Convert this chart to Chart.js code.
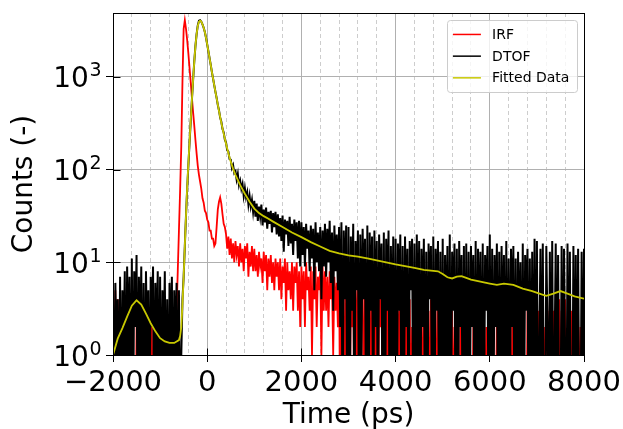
<!DOCTYPE html>
<html>
<head>
<meta charset="utf-8">
<script src="https://cdn.jsdelivr.net/npm/chart.js@4.4.1/dist/chart.umd.min.js"></script>
<style>
html,body{margin:0;padding:0;background:#ffffff;}
#wrap{width:623px;height:429px;}
</style>
</head>
<body>
<div id="wrap"><canvas id="c" width="623" height="429"></canvas></div>
<script>
// ---- time bins (ps) of the measured histograms ----
const BIN_START_PS = -2000;
const BIN_WIDTH_PS = 25;

// ---- IRF counts, one value per 25 ps bin, -2000 ... 8000 ps ----
const irfCounts = [
  2,0,5,0,4,1,3,0,2,0,3,0,1,0,2,0,3,0,1,0,
  2,0,1,0,3,0,1,0,2,0,0,1,0,2,0,1,0,0,2,0,
  1,0,2,0,1,0,0,2,0,1,0,0,1,0,3,8,22,60,180,900,
  3300,4100,3300,2500,1800,1250,880,600,420,300,210,150,110,88,74,62,49,44,36,34,
  29,27,22,22,18,18,15,16,24,37,45,50,43,33,26,24,20,14,19,12,
  18,11,16,10,17,12,15,9,16,10,14,8,15,11,16,7,13,9,15,8,
  14,8,12,7,13,9,11,6,13,8,12,5,11,7,12,6,10,5,11,7,
  10,5,11,4,9,6,11,3,10,5,8,4,10,3,9,6,10,3,8,2,
  9,4,8,2,10,5,7,3,9,1,8,4,9,2,7,5,8,1,9,3,
  8,3,7,2,8,4,6,1,7,3,6,2,8,0,7,1,6,0,8,0,
  8,0,6,2,9,0,5,1,7,0,6,3,8,0,5,0,7,2,6,0,
  7,0,5,1,6,0,4,2,7,0,5,0,6,1,4,0,5,2,6,0,
  4,0,3,1,5,0,2,0,4,1,3,0,4,0,2,1,3,0,4,0,
  4,0,3,0,4,1,2,0,3,0,4,0,2,1,3,0,4,0,2,0,
  3,0,2,0,4,0,1,0,3,0,2,0,3,1,0,2,0,3,0,1,
  2,0,3,0,1,0,2,0,3,0,0,2,0,1,0,3,0,2,0,1,
  3,0,2,0,1,0,3,0,2,0,0,1,0,2,0,3,0,1,0,2,
  0,3,0,2,0,1,0,4,0,2,0,0,3,0,1,0,2,0,3,0,
  0,3,0,0,4,0,2,0,0,3,0,4,0,0,3,0,2,0,0,4,
  0,3,0,0,4,0,0,2,0,3,0,0,4,0,0,3,0,2,0,0,
  3
];

// ---- DTOF counts, same bins ----
const dtofCounts = [
  5,0,6,1,4,0,7,0,5,1,8,0,9,1,7,0,11,0,8,2,
  12,0,7,1,9,0,6,0,8,1,5,0,7,2,9,0,6,1,8,0,
  7,0,5,1,8,0,4,0,6,1,7,0,5,1,6,0,5,0,1,4,
  7,15,32,62,110,195,330,560,920,1450,2150,2900,3600,4050,4100,3950,3700,3400,3050,2650,
  2250,1900,1600,1350,1130,960,810,690,595,500,438,365,328,275,252,210,196,162,156,130,
  128,104,112,92,96,78,90,68,76,62,70,52,63,50,57,42,52,40,47,35,
  46,31,43,28,40,31,42,25,37,27,39,23,35,26,36,21,34,24,35,20,
  33,19,30,17,32,13,29,20,28,15,31,16,26,12,29,17,27,11,28,9,
  27,12,24,9,26,14,22,8,25,11,23,5,27,10,21,8,24,4,22,9,
  26,7,23,10,28,6,21,3,25,8,20,5,24,2,27,0,22,4,25,0,
  24,0,19,3,26,0,17,5,22,0,20,1,23,4,18,0,25,0,21,3,
  19,0,22,2,17,0,20,4,16,0,21,0,18,3,22,0,15,1,19,0,
  18,0,16,3,20,0,15,0,19,2,14,0,17,5,18,0,16,0,20,1,
  17,0,14,2,18,0,13,0,16,4,15,0,19,0,14,3,17,0,13,0,
  18,0,12,1,15,0,20,0,13,3,16,0,14,0,17,2,12,0,15,0,
  16,0,13,0,15,2,12,0,17,0,14,1,13,0,16,0,12,3,15,0,
  20,0,14,0,12,2,16,0,13,0,15,1,12,0,17,0,11,0,14,2,
  15,0,11,0,13,1,10,0,16,0,12,3,14,0,11,0,13,0,18,0,
  17,0,1,14,0,16,0,0,15,2,0,13,0,17,0,1,16,0,12,0,
  0,15,0,14,1,0,16,0,13,0,0,15,0,12,0,14,0,0,13,0,
  14
];

// ---- fitted curve ----
const fitTime = [
  -2000,-1900,-1800,-1700,-1600,-1500,-1400,-1300,-1200,-1100,-1000,-900,-800,-700,-600,
  -575,-550,-525,-500,-475,-450,-425,-400,-375,-350,-325,-300,-275,-250,-225,-200,-175,-150,-125,-100,-75,-50,-25,0,25,50,75,100,125,150,175,200,
  250,300,350,400,450,500,550,600,
  700,800,900,1000,1100,1200,1300,1400,
  1600,1800,2000,2200,2400,2600,2800,3000,3200,3400,3600,3800,4000,4200,4400,4600,4800,
  4900,5000,5100,5200,5300,5400,5500,5600,
  5800,6000,6150,6300,6500,6700,6900,7100,7200,7350,7500,7650,7800,8000
];
const fitCounts = [
  1.0,1.5,1.95,2.6,3.4,3.9,3.5,2.8,2.2,1.8,1.52,1.4,1.35,1.35,1.45,
  1.6,2.0,3.5,7,15,32,65,115,200,340,560,920,1450,2150,2900,3550,3950,4050,3950,3700,3400,3050,2650,2250,1900,1600,1350,1130,960,810,690,590,
  430,320,245,190,150,122,102,88,
  68,55,45,38,34,31.5,29.5,27.5,
  24,21,18.7,16.5,14.8,13.3,12.5,11.9,11.5,11.0,10.5,10.0,9.5,9.1,8.7,8.3,8.1,
  8.0,7.5,6.9,6.7,7.0,7.1,6.8,6.5,
  6.2,5.9,5.7,5.9,5.7,5.2,4.9,4.5,4.35,4.6,4.9,4.6,4.3,4.05
];

// ---- labels and ticks ----
const seriesLabels = ['IRF', 'DTOF', 'Fitted Data'];
const seriesColors = ['#ff0000', '#000000', '#c8c800'];
const xMajorTicks = [-2000, 0, 2000, 4000, 6000, 8000];
const xTickLabels = ['\u22122000', '0', '2000', '4000', '6000', '8000'];
const xMinorTicks = [-1600,-1200,-800,-400,400,800,1200,1600,2400,2800,3200,3600,4400,4800,5200,5600,6400,6800,7200,7600];
const yTicks = [1, 10, 100, 1000];
const yTickBase = '10';
const yTickExponents = ['0', '1', '2', '3'];
const xTitle = 'Time (ps)';
const yTitle = 'Counts (-)';

// non-positive counts are drawn below the log axis (clipped), as matplotlib does
const LOG_FLOOR = 0.1;
const binPoints = (counts) => counts.map((v, i) => ({ x: BIN_START_PS + i * BIN_WIDTH_PS, y: v > 0 ? v : LOG_FLOOR }));
const fitPoints = fitTime.map((t, i) => ({ x: t, y: fitCounts[i] }));

const FONT = 'DejaVu Sans';
Chart.defaults.font.family = FONT;
Chart.defaults.color = '#000000';

// y tick labels written as base + raised exponent (like 10^3)
const powerLabels = {
  id: 'powerLabels',
  afterDraw(chart) {
    const { ctx, scales } = chart;
    const y = scales.y;
    const rightEdge = y.right - 7 - 5;
    ctx.save();
    ctx.fillStyle = '#000000';
    ctx.textBaseline = 'alphabetic';
    ctx.textAlign = 'left';
    y.ticks.forEach(t => {
      const idx = yTicks.indexOf(t.value);
      if (idx < 0) return;
      const py = y.getPixelForValue(t.value);
      const exp = yTickExponents[idx];
      ctx.font = '19px "' + FONT + '"';
      const we = ctx.measureText(exp).width;
      ctx.font = '28px "' + FONT + '"';
      const wb = ctx.measureText(yTickBase).width;
      const base = py + 10.5;
      const x0 = rightEdge - we - wb;
      ctx.fillText(yTickBase, x0, base);
      ctx.font = '19px "' + FONT + '"';
      ctx.fillText(exp, x0 + wb + 0.5, base - 11);
    });
    ctx.restore();
  }
};

const frameAndLegend = {
  id: 'frameAndLegend',
  afterDatasetsDraw(chart) {
    const { ctx, chartArea: a, scales } = chart;
    ctx.save();
    ctx.strokeStyle = '#000000';
    ctx.lineWidth = 1;
    const L = Math.round(a.left) + 0.5, R = Math.round(a.right) + 0.5;
    const T = Math.round(a.top) + 0.5, B = Math.round(a.bottom) + 0.5;
    ctx.strokeRect(L, T, R - L, B - T);
    // inward half of the tick marks
    ctx.beginPath();
    scales.x.ticks.forEach(t => {
      const px = Math.round(scales.x.getPixelForValue(t.value)) + 0.5;
      ctx.moveTo(px, B); ctx.lineTo(px, B - 7);
    });
    scales.y.ticks.forEach(t => {
      const py = Math.round(scales.y.getPixelForValue(t.value)) + 0.5;
      ctx.moveTo(L, py); ctx.lineTo(L + 7, py);
    });
    ctx.stroke();

    // legend (upper right, inside the axes)
    const fs = 14;
    ctx.font = fs + 'px "' + FONT + '"';
    const items = chart.data.datasets.map(d => ({ label: d.label, color: d.borderColor }));
    const textW = Math.max(...items.map(it => ctx.measureText(it.label).width));
    const pad = 0.4 * fs, handle = 2 * fs, gap = 0.8 * fs, rowH = 1.05 * fs, spacing = 0.5 * fs;
    const w = pad * 2 + handle + gap + textW + 2;
    const h = pad * 2 + items.length * rowH + (items.length - 1) * spacing + 3;
    const bx = a.right - 0.5 * fs - w, by = a.top + 0.5 * fs;
    ctx.beginPath();
    ctx.roundRect(Math.round(bx) + 0.5, Math.round(by) + 0.5, Math.round(w), Math.round(h), 3);
    ctx.fillStyle = 'rgba(255,255,255,0.8)';
    ctx.fill();
    ctx.strokeStyle = '#cccccc';
    ctx.lineWidth = 1;
    ctx.stroke();
    ctx.textBaseline = 'middle';
    ctx.textAlign = 'left';
    items.forEach((it, i) => {
      const cy = by + pad + 1.5 + rowH / 2 + i * (rowH + spacing);
      ctx.beginPath();
      ctx.strokeStyle = it.color;
      ctx.lineWidth = 1.5;
      ctx.moveTo(bx + pad, cy); ctx.lineTo(bx + pad + handle, cy);
      ctx.stroke();
      ctx.fillStyle = '#000000';
      ctx.fillText(it.label, bx + pad + handle + gap, cy + 1);
    });
    ctx.restore();
  }
};

const lineStyle = { pointRadius: 0, tension: 0, fill: false };

new Chart(document.getElementById('c'), {
  type: 'line',
  data: {
    datasets: [
      Object.assign({ label: seriesLabels[0], data: binPoints(irfCounts), borderColor: seriesColors[0], borderWidth: 1.8, order: 3 }, lineStyle),
      Object.assign({ label: seriesLabels[1], data: binPoints(dtofCounts), borderColor: seriesColors[1], borderWidth: 2, order: 2 }, lineStyle),
      Object.assign({ label: seriesLabels[2], data: fitPoints, borderColor: seriesColors[2], borderWidth: 1.8, order: 1 }, lineStyle)
    ]
  },
  options: {
    responsive: false,
    animation: false,
    events: [],
    layout: { padding: { top: 13, right: 39, left: 0, bottom: 0 } },
    plugins: { legend: { display: false }, tooltip: { enabled: false } },
    scales: {
      x: {
        type: 'linear',
        position: 'bottom',
        min: -2000,
        max: 8000,
        afterBuildTicks: s => { s.ticks = xMajorTicks.map(v => ({ value: v })); },
        afterFit: s => { s.height = 74; s.paddingLeft = 0; s.paddingRight = 0; },
        ticks: {
          autoSkip: false,
          maxRotation: 0,
          padding: 4,
          color: '#000000',
          font: { size: 29, family: FONT },
          callback: v => xTickLabels[xMajorTicks.indexOf(v)]
        },
        grid: { color: '#b0b0b0', lineWidth: 1, tickLength: 7, tickColor: '#000000', tickWidth: 1 },
        border: { color: '#000000', width: 1 },
        title: { display: true, text: xTitle, color: '#000000', font: { size: 28, family: FONT }, padding: { top: 0, bottom: -4 } }
      },
      xMinor: {
        type: 'linear',
        position: 'top',
        min: -2000,
        max: 8000,
        afterBuildTicks: s => { s.ticks = xMinorTicks.map(v => ({ value: v })); },
        afterFit: s => { s.height = 0; s.paddingLeft = 0; s.paddingRight = 0; },
        ticks: { display: false },
        grid: { color: '#cdcdcd', lineWidth: 1, drawTicks: false },
        border: { display: false, dash: [4, 3] }
      },
      y: {
        type: 'logarithmic',
        position: 'left',
        min: 1,
        max: 4900,
        afterBuildTicks: s => { s.ticks = yTicks.map(v => ({ value: v })); },
        afterFit: s => { s.width = 113; s.paddingTop = 0; s.paddingBottom = 0; },
        ticks: { display: false },
        grid: { color: '#b0b0b0', lineWidth: 1, tickLength: 7, tickColor: '#000000', tickWidth: 1 },
        border: { color: '#000000', width: 1 },
        title: { display: true, text: yTitle, color: '#000000', font: { size: 28, family: FONT }, padding: { top: 8, bottom: 0 } }
      }
    }
  },
  plugins: [frameAndLegend, powerLabels]
});
</script>
</body>
</html>
